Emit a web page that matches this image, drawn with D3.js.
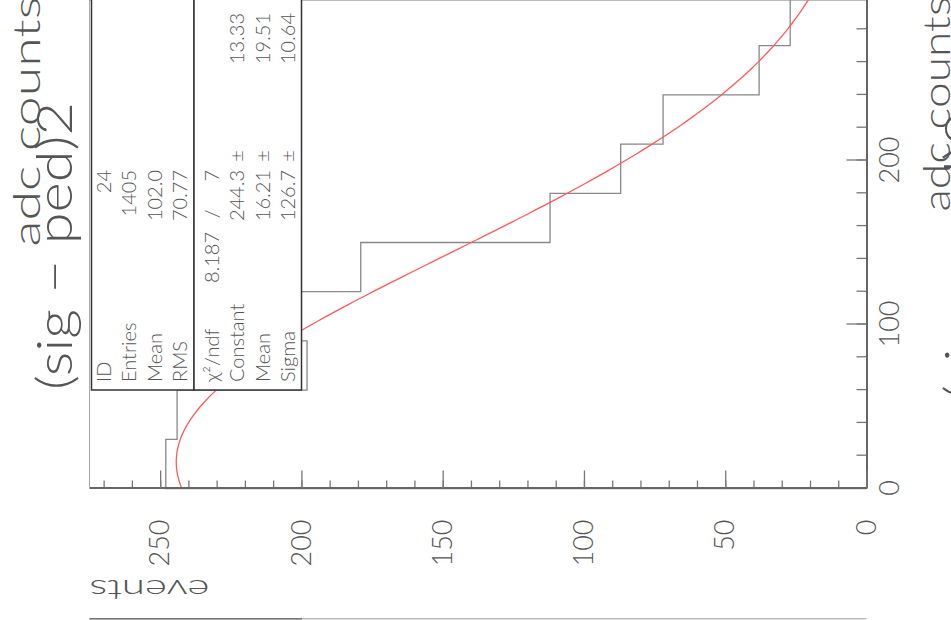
<!DOCTYPE html>
<html>
<head>
<meta charset="utf-8">
<script src="https://cdn.jsdelivr.net/npm/d3@7"></script>
<style>
  html, body { margin: 0; padding: 0; background: #fff; overflow: hidden; }
  svg { display: block; }
  text { font-family: Lato, "Liberation Sans", sans-serif; font-weight: 300; fill: #555; }
</style>
</head>
<body>
<script>
// ---- histogram ID 24 : (sig - ped)2, 10 bins of 30 adc counts ----
const binEdges  = [0, 30, 60, 90, 120, 150, 180, 210, 240, 270, 300];
const binCounts = [248, 244, 198, 200, 179, 112, 87, 72, 38, 27];

// axis ticks
const adcMajorTicks   = [0, 100, 200];
const eventMajorTicks = [0, 50, 100, 150, 200, 250];

// statistics box
const statLabels = ["ID", "Entries", "Mean", "RMS"];
const statValues = ["24", "1405", "102.0", "70.77"];

// gaussian fit box
const fitChi2 = "8.187";
const fitNdf  = "7";
const fitLabels = ["Constant", "Mean", "Sigma"];
const fitValues = ["244.3", "16.21", "126.7"];
const fitErrors = ["13.33", "19.51", "10.64"];

const title   = "(sig \u2212 ped)2";
const xTitle  = "adc counts";
const yTitle  = "events";

const W = 951, H = 620;

const svg = d3.select("body").append("svg")
  .attr("width", W).attr("height", H);

// The page is laid out as a normal landscape histogram (u across, v down)
// and then turned a quarter turn counter-clockwise onto the canvas.
const page = svg.append("g")
  .attr("transform", `translate(0,${H}) rotate(-90)`);

const x = d3.scaleLinear().domain([0, 300]).range([131.5, 623.5]);   // adc counts
const y = d3.scaleLinear().domain([0, 275]).range([866.5, 89.5]);    // events

// neighbouring pad edges
page.append("line")
  .attr("x1", 619.5).attr("x2", 619.5)
  .attr("y1", y(275)).attr("y2", y(0))
  .attr("stroke", "#bbb").attr("stroke-width", 1);
page.append("line")
  .attr("x1", 1.2).attr("x2", 1.2)
  .attr("y1", y(275)).attr("y2", y(0))
  .attr("stroke", "#bbb").attr("stroke-width", 1.4);
page.append("line")
  .attr("x1", 1.2).attr("x2", 1.2)
  .attr("y1", y(275)).attr("y2", 302)
  .attr("stroke", "#777").attr("stroke-width", 1.4);

// frame
page.append("rect")
  .attr("x", x(0)).attr("y", y(275))
  .attr("width", x(300) - x(0)).attr("height", y(0) - y(275))
  .attr("fill", "none").attr("stroke", "#aaa").attr("stroke-width", 1);

// histogram outline
const steps = [[binEdges[0], 0]];
binCounts.forEach((c, i) => { steps.push([binEdges[i], c], [binEdges[i + 1], c]); });
steps.push([binEdges[binEdges.length - 1], 0]);
page.append("path")
  .datum(steps)
  .attr("fill", "none")
  .attr("stroke", "#888")
  .attr("stroke-width", 1.3)
  .attr("d", d3.line().x(d => x(d[0])).y(d => y(d[1])));

// gaussian fit, from the fitted parameters shown in the box
const fC = +fitValues[0], fM = +fitValues[1], fS = +fitValues[2];
const fitPts = d3.range(0, 300.5, 2).map(a => [a, fC * Math.exp(-0.5 * ((a - fM) / fS) ** 2)]);
page.append("path")
  .datum(fitPts)
  .attr("fill", "none")
  .attr("stroke", "#ff5a5a")
  .attr("stroke-width", 1.3)
  .attr("d", d3.line().x(d => x(d[0])).y(d => y(d[1])));

// adc axis (inner ticks)
function styleAxis(sel, fs) {
  sel.selectAll("path.domain").attr("stroke", "#666").attr("stroke-width", 2);
  sel.selectAll(".tick line").attr("stroke", "#777").attr("stroke-width", 1.3);
  sel.selectAll("text").attr("font-size", fs).attr("font-family", null).attr("fill", "#555");
  sel.attr("font-family", null).attr("font-size", null);
}
const adcMinor = page.append("g").attr("transform", `translate(0,${y(0)})`)
  .call(d3.axisBottom(x).tickValues(d3.range(0, 301, 20)).tickSize(-10).tickFormat(""));
adcMinor.select("path.domain").remove();
adcMinor.selectAll(".tick line").attr("stroke", "#777").attr("stroke-width", 1.3);
const adcAxis = page.append("g").attr("transform", `translate(0,${y(0)})`)
  .call(d3.axisBottom(x).tickValues(adcMajorTicks).tickSizeInner(-20).tickSizeOuter(0)
        .tickPadding(13).tickFormat(d3.format("d")));
styleAxis(adcAxis, 27);

// events axis (inner ticks)
const evMinor = page.append("g").attr("transform", `translate(${x(0)},0)`)
  .call(d3.axisLeft(y).tickValues(d3.range(0, 271, 10)).tickSize(-8).tickFormat(""));
evMinor.select("path.domain").remove();
evMinor.selectAll(".tick line").attr("stroke", "#777").attr("stroke-width", 1.3);
const evAxis = page.append("g").attr("transform", `translate(${x(0)},0)`)
  .call(d3.axisLeft(y).tickValues(eventMajorTicks).tickSizeInner(-18).tickSizeOuter(0)
        .tickPadding(31).tickFormat(d3.format("d")));
styleAxis(evAxis, 27);

// axis titles
page.append("text")
  .attr("transform", `translate(40,${y(275)}) rotate(-90)`)
  .attr("text-anchor", "end")
  .attr("font-size", 27)
  .attr("textLength", 120).attr("lengthAdjust", "spacingAndGlyphs")
  .text(yTitle);
page.append("text")
  .attr("x", x(300) - 215).attr("y", 950)
  .attr("font-size", 38)
  .attr("textLength", 215).attr("lengthAdjust", "spacingAndGlyphs")
  .text(xTitle);
// x title of the pad above
page.append("text")
  .attr("x", x(300) - 250).attr("y", 40)
  .attr("font-size", 38)
  .attr("textLength", 250).attr("lengthAdjust", "spacingAndGlyphs")
  .text(xTitle);

// pad title, and the start of the next pad's title
page.append("text")
  .attr("x", 230).attr("y", 72)
  .attr("font-size", 50)
  .attr("textLength", 288).attr("lengthAdjust", "spacingAndGlyphs")
  .text(title);
page.append("text")
  .attr("x", 220).attr("y", 980)
  .attr("font-size", 50)
  .attr("textLength", 288).attr("lengthAdjust", "spacingAndGlyphs")
  .text(title);

// statistics box and fit box
const boxBottom = 230, boxTop = x(300);
const statBox = { v0: 91.5, v1: 194 };
const fitBox  = { v0: 194, v1: 301.5 };
[statBox, fitBox].forEach(b => {
  page.append("rect")
    .attr("x", boxBottom).attr("y", b.v0)
    .attr("width", boxTop - boxBottom).attr("height", b.v1 - b.v0)
    .attr("fill", "#fff").attr("stroke", "#333").attr("stroke-width", 1.5);
});

const labelU = 238, valueU = 450, pmU = 464, errU = 607;
const statRow = i => 103 + 25.4 * i;
const fitRow  = i => 211 + 25.4 * i;
const boxText = (u, v, s, anchor) => page.append("text")
  .attr("x", u).attr("y", v)
  .attr("dominant-baseline", "central")
  .attr("text-anchor", anchor)
  .attr("font-size", 20)
  .attr("fill", "#444")
  .text(s);

statLabels.forEach((l, i) => {
  boxText(labelU, statRow(i), l, "start");
  boxText(valueU, statRow(i), statValues[i], "end");
});

boxText(labelU, fitRow(0), "\u03C7\u00B2/ndf", "start");
boxText(337, fitRow(0), fitChi2, "start");
boxText(406, fitRow(0), "/", "middle");
boxText(valueU, fitRow(0), fitNdf, "end");
fitLabels.forEach((l, i) => {
  boxText(labelU, fitRow(i + 1), l, "start");
  boxText(valueU, fitRow(i + 1), fitValues[i], "end");
  boxText(pmU, fitRow(i + 1), "\u00B1", "middle");
  boxText(errU, fitRow(i + 1), fitErrors[i], "end");
});
</script>
</body>
</html>
